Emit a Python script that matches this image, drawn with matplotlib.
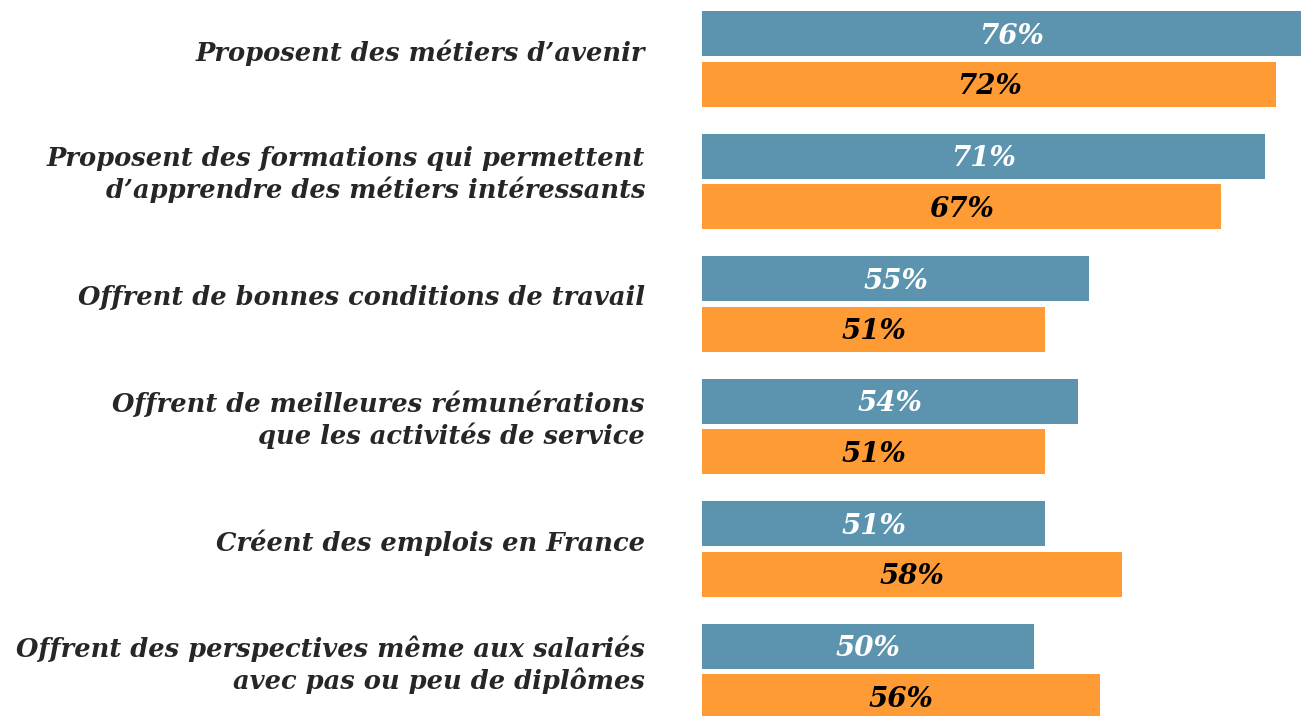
import matplotlib
matplotlib.use("Agg")
import matplotlib.pyplot as plt
import matplotlib.transforms as mtransforms
import numpy as np

categories = [
    "Proposent des métiers d’avenir",
    "Proposent des formations qui permettent\nd’apprendre des métiers intéressants",
    "Offrent de bonnes conditions de travail",
    "Offrent de meilleures rémunérations\nque les activités de service",
    "Créent des emplois en France",
    "Offrent des perspectives même aux salariés\navec pas ou peu de diplômes",
]
series_blue = [76, 71, 55, 54, 51, 50]
series_orange = [72, 67, 51, 51, 58, 56]
labels_blue = [f"{v}%" for v in series_blue]
labels_orange = [f"{v}%" for v in series_orange]

BLUE = "#5C94AF"
ORANGE = "#FF9B35"
TEXT = "#262626"
FONT = "DejaVu Serif"

fig = plt.figure(figsize=(13.01, 7.16), dpi=100)
W, H = 1301, 716
ax = fig.add_axes([702 / W, 0, 1 - 702 / W, 1])

x0 = 19.8
ax.set_xlim(x0, x0 + (W - 702) / 11.0)
ax.set_ylim((716 - 59) / 122.5, -59 / 122.5)

y = np.arange(len(categories))
h = 45 / 122.5
off = 25.4 / 122.5
ax.barh(y - off, np.array(series_blue) - x0, left=x0, height=h, color=BLUE)
ax.barh(y + off, np.array(series_orange) - x0, left=x0, height=h, color=ORANGE)

for i in range(len(categories)):
    ax.text((x0 + series_blue[i]) / 2, y[i] - off + 0.02, labels_blue[i], ha="center", va="center",
            color="white", fontsize=20, fontweight="bold", fontstyle="italic", family=FONT, clip_on=False)
    ax.text((x0 + series_orange[i]) / 2, y[i] + off + 0.02, labels_orange[i], ha="center", va="center",
            color="black", fontsize=20, fontweight="bold", fontstyle="italic", family=FONT, clip_on=False)

trans = mtransforms.blended_transform_factory(fig.transFigure, ax.transData)
for i, c in enumerate(categories):
    fig.text(645 / W, y[i] - 0.055, c, transform=trans, ha="right", va="center", multialignment="right",
             color=TEXT, fontsize=18.5, fontweight="bold", fontstyle="italic", family=FONT,
             linespacing=1.25)

ax.axis("off")
fig.savefig("out.png", dpi=100)
